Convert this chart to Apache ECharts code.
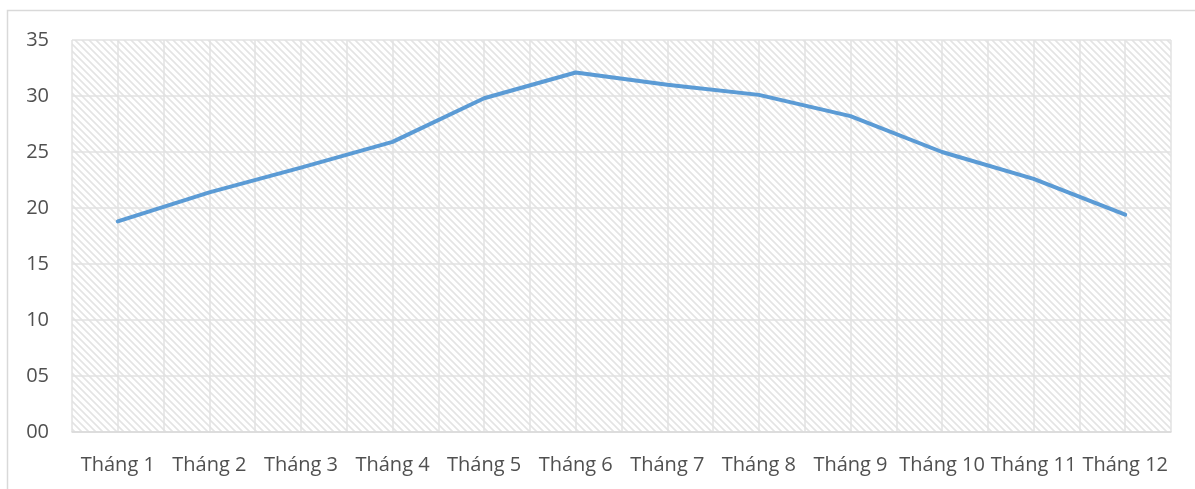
<!DOCTYPE html>
<html>
<head>
<meta charset="utf-8">
<script src="https://cdn.jsdelivr.net/npm/echarts@6/dist/echarts.min.js"></script>
<style>
  html, body { margin: 0; padding: 0; background: #fff; }
  #chart { width: 1195px; height: 489px; }
</style>
</head>
<body>
<div id="chart"></div>
<script>
const months = ['Tháng 1', 'Tháng 2', 'Tháng 3', 'Tháng 4', 'Tháng 5', 'Tháng 6',
  'Tháng 7', 'Tháng 8', 'Tháng 9', 'Tháng 10', 'Tháng 11', 'Tháng 12']
const values = [18.8, 21.4, 23.6, 25.9, 29.8, 32.1, 31.0, 30.1, 28.2, 25.0, 22.6, 19.4]

// diagonal hatch tile for the plot background
const makeHatch = () => {
  const c = document.createElement('canvas')
  c.width = 7
  c.height = 7
  const ctx = c.getContext('2d')
  ctx.fillStyle = '#ffffff'
  ctx.fillRect(0, 0, 7, 7)
  ctx.strokeStyle = '#e4e4e4'
  ctx.lineWidth = 1.6
  ctx.beginPath()
  ctx.moveTo(-2, -2); ctx.lineTo(9, 9)
  ctx.moveTo(-9, -2); ctx.lineTo(2, 9)
  ctx.moveTo(5, -2); ctx.lineTo(16, 9)
  ctx.stroke()
  return c
}

const chart = echarts.init(document.getElementById('chart'))

const gridColor = '#e2e2e2'
const textColor = '#505050'
const font = '"Open Sans", sans-serif'

chart.setOption({
  backgroundColor: '#fff',
  animation: false,
  graphic: [{
    type: 'rect',
    shape: { x: 7.5, y: 10.5, width: 1300, height: 600 },
    style: { fill: 'none', stroke: '#d9d9d9', lineWidth: 1.5 },
    silent: true
  }],
  grid: {
    left: 72,
    right: 24,
    top: 40,
    bottom: 57,
    show: true,
    borderWidth: 0,
    backgroundColor: { image: makeHatch(), repeat: 'repeat' }
  },
  xAxis: [{
    type: 'category',
    data: months,
    boundaryGap: true,
    axisLine: { show: true, lineStyle: { color: '#d9d9d9', width: 1.5 } },
    axisTick: { show: false },
    splitLine: { show: false },
    axisLabel: {
      color: textColor,
      fontFamily: font,
      fontSize: 20,
      margin: 23,
      interval: 0
    }
  }, {
    type: 'value',
    min: 0,
    max: 24,
    interval: 1,
    position: 'bottom',
    axisLine: { show: false },
    axisTick: { show: false },
    axisLabel: { show: false },
    splitLine: { show: true, lineStyle: { color: gridColor, width: 1.5 } }
  }],
  yAxis: {
    type: 'value',
    min: 0,
    max: 35,
    interval: 5,
    axisLine: { show: false },
    axisTick: { show: false },
    axisLabel: {
      color: textColor,
      fontFamily: font,
      fontSize: 20,
      margin: 23,
      formatter: (v) => String(v).padStart(2, '0')
    },
    splitLine: { lineStyle: { color: gridColor, width: 1.5 } }
  },
  series: [{
    type: 'line',
    data: values,
    xAxisIndex: 0,
    showSymbol: false,
    symbol: 'none',
    lineStyle: { color: '#5b9bd5', width: 4, join: 'round', cap: 'round' }
  }]
})
</script>
</body>
</html>
